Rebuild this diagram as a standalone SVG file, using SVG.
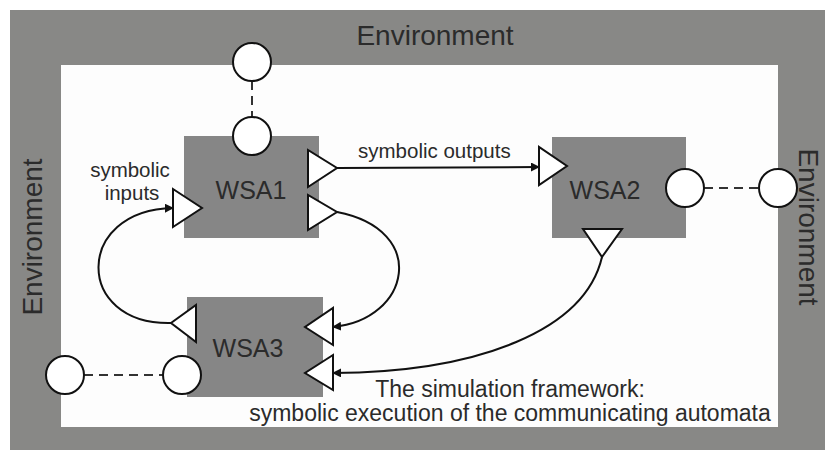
<svg xmlns="http://www.w3.org/2000/svg" width="825" height="450" viewBox="0 0 825 450">
<defs>
<style>
.env{fill:#888886}
.box{fill:#868686}
.port{fill:#ffffff;stroke:#111;stroke-width:2}
.lbl{font-family:"Liberation Sans",Arial,sans-serif;fill:#2b2b2b}
.big{font-size:28px}
.name{font-size:25px;text-anchor:middle}
.small{font-size:20.5px}
.cap{font-size:23px;text-anchor:middle}
.conn{fill:none;stroke:#111;stroke-width:2}
.dash{fill:none;stroke:#333;stroke-width:2;stroke-dasharray:9 6}
</style>
<marker id="ah" viewBox="0 0 10 10" refX="9" refY="5" markerWidth="9" markerHeight="9" markerUnits="userSpaceOnUse" orient="auto">
<path d="M0,0 L10,5 L0,10 z" fill="#111"/>
</marker>
</defs>
<rect x="0" y="0" width="825" height="450" fill="#ffffff"/>
<g id="environment">
<rect class="env" x="10" y="10" width="815" height="440"/>
<rect x="61" y="65" width="717" height="362" fill="#fdfdfd"/>
<text class="lbl big" x="435" y="45" text-anchor="middle">Environment</text>
<text class="lbl big" transform="translate(42,237) rotate(-90)" text-anchor="middle">Environment</text>
<text class="lbl big" transform="translate(799,227) rotate(90)" text-anchor="middle">Environment</text>
</g>
<g id="connectors">
<line class="dash" x1="252" y1="81" x2="252" y2="117"/>
<line class="dash" x1="704" y1="188" x2="759" y2="188"/>
<line class="dash" x1="84" y1="375" x2="163" y2="375"/>
<path class="conn" d="M337,168 L539,167" marker-end="url(#ah)"/>
<path class="conn" d="M337,212 C430,230 410,320 333,327" marker-end="url(#ah)"/>
<path class="conn" d="M171,323 C74,325 74,210 173,208" marker-end="url(#ah)"/>
<path class="conn" d="M602,257 C585,330 480,372 333,373" marker-end="url(#ah)"/>
</g>
<g id="env-port-top"><circle class="port" cx="252" cy="62" r="19"/></g>
<g id="env-port-right"><circle class="port" cx="778" cy="188" r="19"/></g>
<g id="env-port-left"><circle class="port" cx="65" cy="375" r="19"/></g>
<g id="WSA1">
<rect class="box" x="184" y="136" width="135" height="102"/>
<text class="lbl name" x="251" y="199">WSA1</text>
<circle class="port" cx="252" cy="136" r="19"/>
<polygon class="port" points="308,150 308,187 337,168"/>
<polygon class="port" points="308,195 308,230 337,212"/>
<polygon class="port" points="173,189 173,227 202,208"/>
</g>
<g id="WSA2">
<rect class="box" x="552" y="137" width="134" height="101"/>
<text class="lbl name" x="605" y="199">WSA2</text>
<circle class="port" cx="685" cy="188" r="19"/>
<polygon class="port" points="539,147 539,185 567,166"/>
<polygon class="port" points="583,229 622,229 602,257"/>
</g>
<g id="WSA3">
<rect class="box" x="187" y="297" width="136" height="100"/>
<text class="lbl name" x="248" y="357">WSA3</text>
<circle class="port" cx="182" cy="375" r="19"/>
<polygon class="port" points="196,305 196,342 171,323"/>
<polygon class="port" points="333,308 333,345 305,327"/>
<polygon class="port" points="333,355 333,390 305,373"/>
</g>
<g id="labels">
<text class="lbl small" x="130" y="177" text-anchor="middle">symbolic</text>
<text class="lbl small" x="132" y="200" text-anchor="middle">inputs</text>
<text class="lbl small" x="358" y="158">symbolic outputs</text>
<text class="lbl cap" x="510" y="397">The simulation framework:</text>
<text class="lbl cap" x="510" y="421">symbolic execution of the communicating automata</text>
</g>
</svg>
